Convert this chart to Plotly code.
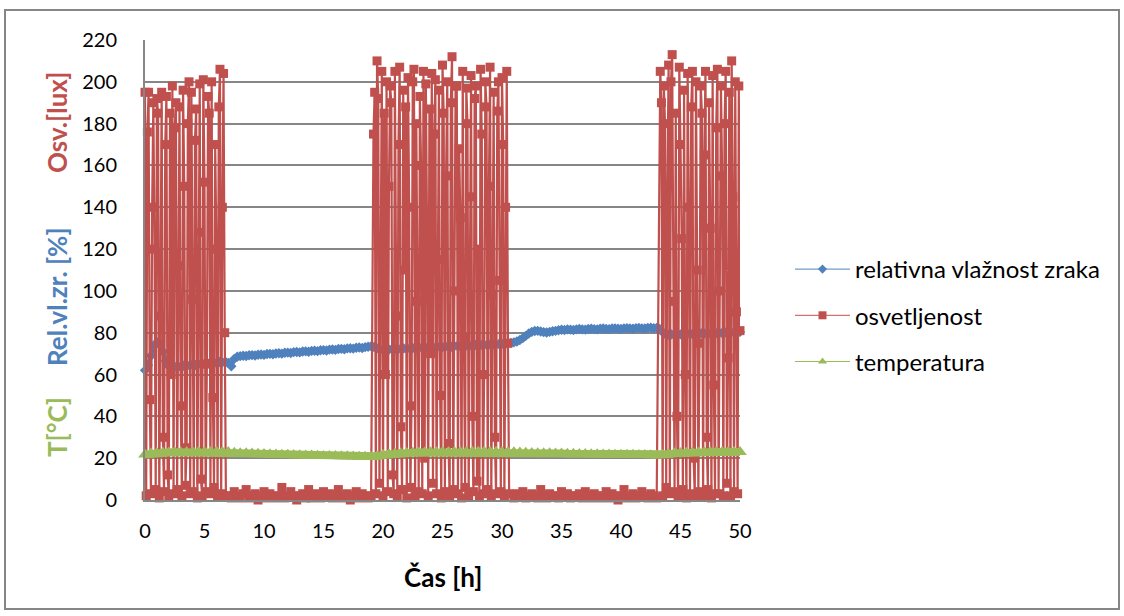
import plotly.graph_objects as go

# ---------------- data ----------------
# relative humidity [%], sampled every 0.25 h from 0 to 50 h
vl_step = 0.25
vlaznost = [
    62.0, 64.5, 69.0, 73.5, 75.5, 75.0, 71.0, 66.5,
    64.0, 63.5, 63.8, 64.0, 63.7, 64.2, 64.5, 64.3,
    64.8, 64.6, 65.0, 65.3, 65.0, 65.5, 65.4, 65.8,
    65.6, 66.0, 65.8, 66.2, 65.5, 64.0, 67.5, 68.5,
    68.8, 69.0, 68.9, 69.2, 69.3, 69.1, 69.5, 69.6,
    69.4, 69.8, 69.9, 69.7, 70.1, 70.2, 70.0, 70.4,
    70.5, 70.3, 70.7, 70.8, 70.6, 71.0, 71.1, 70.9,
    71.3, 71.4, 71.2, 71.6, 71.7, 71.5, 71.9, 72.0,
    71.8, 72.2, 72.3, 72.1, 72.5, 72.6, 72.4, 72.8,
    72.9, 72.7, 73.1, 73.3, 73.5, 73.2, 72.5, 72.0,
    71.8, 72.0, 71.9, 72.2, 72.3, 72.1, 72.4, 72.5,
    72.3, 72.6, 72.7, 72.5, 72.8, 72.9, 72.7, 73.0,
    73.1, 72.9, 73.2, 73.3, 73.1, 73.4, 73.5, 73.3,
    73.6, 73.7, 73.5, 73.8, 73.9, 73.7, 74.0, 74.1,
    73.9, 74.2, 74.3, 74.1, 74.4, 74.5, 74.3, 74.6,
    74.7, 74.6, 74.9, 75.1, 75.4, 75.8, 76.5, 77.4,
    78.5, 79.6, 80.4, 80.8, 80.9, 80.6, 80.3, 80.1,
    80.4, 80.7, 80.9, 81.2, 81.4, 81.3, 81.6, 81.5,
    81.3, 81.6, 81.8, 81.6, 81.5, 81.8, 81.9, 81.7,
    81.6, 81.9, 82.0, 81.8, 81.7, 82.0, 82.1, 81.9,
    81.8, 82.1, 82.2, 82.0, 81.9, 82.2, 82.3, 82.1,
    82.0, 82.3, 82.4, 82.2, 82.3, 81.8, 80.2, 79.3,
    79.0, 79.2, 79.1, 79.3, 79.2, 79.4, 79.3, 79.5,
    79.4, 79.6, 79.5, 79.7, 79.6, 79.8, 79.7, 79.9,
    79.8, 80.0, 79.9, 80.1, 80.0, 80.2, 80.1, 80.3,
    80.4,
]

# temperature [°C], sampled every 0.5 h from 0 to 50 h
t_step = 0.5
temperatura = [
    21.8, 22.2, 22.5, 22.6, 22.7, 22.8, 22.8, 22.9, 22.9, 23.0,
    23.0, 23.0, 23.1, 23.0, 22.9, 22.6, 22.4, 22.3, 22.2, 22.1,
    22.0, 21.9, 21.8, 21.7, 21.6, 21.5, 21.4, 21.3, 21.3, 21.2,
    21.1, 21.1, 21.0, 20.9, 20.9, 20.8, 20.7, 20.7, 20.6, 20.9,
    21.5, 21.9, 22.2, 22.4, 22.5, 22.6, 22.7, 22.7, 22.8, 22.8,
    22.9, 22.9, 23.0, 23.0, 23.0, 23.1, 23.1, 23.1, 23.0, 23.1,
    23.0, 22.9, 22.8, 22.7, 22.6, 22.5, 22.4, 22.3, 22.3, 22.2,
    22.2, 22.1, 22.1, 22.0, 22.0, 21.9, 21.9, 21.8, 21.8, 21.7,
    21.7, 21.6, 21.6, 21.5, 21.5, 21.4, 21.3, 21.5, 21.9, 22.3,
    22.5, 22.6, 22.7, 22.7, 22.8, 22.8, 22.9, 22.9, 23.0, 23.0,
    23.0,
]

# illuminance [lux], recorded in segments: (start hour, step hour, values)
osv_dan1 = [195, 2, 176, 195, 48, 3, 140, 190, 120, 5,
            192, 185, 1, 88, 195, 30, 4, 170, 193, 12,
            2, 185, 60, 198, 3, 178, 190, 5, 112, 188,
            45, 2, 196, 150, 7, 25, 180, 200, 3, 195,
            96, 4, 172, 187, 1, 128, 199, 10, 2, 201,
            152, 4, 65, 193, 185, 3, 200, 49, 6, 170,
            120, 2, 188, 206, 3, 140, 204, 80, 2]
osv_noc1 = [2, 1, 4, 2, 1, 3, 5, 1, 2, 3, 0, 2, 4, 1, 3, 2, 1, 2, 6, 1,
            2, 4, 2, 0, 2, 3, 1, 5, 1, 3, 2, 1, 4, 2, 3, 1, 2, 5, 1, 2,
            3, 0, 2, 4, 1, 3, 2, 1, 2]
osv_dan2 = [175, 195, 3, 210, 192, 8, 120, 205, 2, 185,
            60, 200, 4, 150, 198, 190, 12, 3, 205, 88,
            2, 170, 207, 35, 5, 196, 110, 188, 1, 202,
            140, 6, 45, 200, 206, 2, 180, 95, 4, 193,
            160, 3, 205, 20, 199, 130, 2, 187, 70, 204,
            8, 175, 201, 3, 115, 196, 50, 1, 208, 185,
            4, 155, 200, 27, 2, 190, 212, 5, 100, 198,
            198, 3, 168, 135, 1, 205, 78, 6, 197, 180,
            2, 145, 203, 40, 4, 192, 198, 9, 120, 2,
            206, 175, 3, 60, 200, 188, 5, 150, 207, 2,
            98, 195, 30, 3, 186, 200, 105, 4, 202, 170,
            2, 140, 205, 75, 3]
osv_noc2 = [1, 3, 2, 4, 1, 2, 3, 2, 1, 5, 2, 1, 3, 2, 2, 1, 4, 2, 3, 1,
            2, 2, 3, 1, 4, 2, 1, 3, 2, 1, 2, 4, 1, 3, 2, 0, 2, 5, 1, 2,
            3, 1, 2, 4, 2, 1, 3, 2, 1]
osv_dan3 = [205, 190, 2, 198, 180, 6, 150, 208, 3, 200,
            213, 95, 4, 185, 40, 2, 207, 170, 125, 5,
            196, 60, 1, 204, 140, 3, 188, 205, 20, 2,
            200, 110, 4, 75, 198, 185, 2, 165, 205, 30,
            5, 190, 130, 1, 203, 55, 3, 178, 206, 3,
            100, 198, 155, 2, 180, 205, 8, 68, 195, 2,
            210, 145, 4, 200, 90, 3, 198, 81]
osv_segments = [(0.0, 0.1, osv_dan1), (7.0, 0.25, osv_noc1), (19.2, 0.1, osv_dan2),
                (31.0, 0.25, osv_noc2), (43.3, 0.1, osv_dan3)]

series_names = ["relativna vlažnost zraka", "osvetljenost", "temperatura"]
x_ticks = [0, 5, 10, 15, 20, 25, 30, 35, 40, 45, 50]
y_ticks = [0, 20, 40, 60, 80, 100, 120, 140, 160, 180, 200, 220]

# ---------------- build x arrays ----------------
t_vl = [round(i * vl_step, 3) for i in range(len(vlaznost))]
t_temp = [round(i * t_step, 3) for i in range(len(temperatura))]
t_osv, osv = [], []
for start, step, vals in osv_segments:
    for i, v in enumerate(vals):
        t_osv.append(round(start + i * step, 3))
        osv.append(v)

BLUE = "#4F81BD"
RED = "#C0504D"
GREEN = "#9BBB59"
GRAY = "#868686"
FONT = "Lato"

fig = go.Figure()
# data traces (legend handled by small-marker proxy traces below)
fig.add_trace(go.Scatter(x=t_vl, y=vlaznost, mode="lines+markers", showlegend=False,
                         line=dict(color=BLUE, width=4),
                         marker=dict(symbol="diamond", size=8, color=BLUE),
                         cliponaxis=False, hoverinfo="skip"))
fig.add_trace(go.Scatter(x=t_osv, y=osv, mode="lines+markers", showlegend=False,
                         line=dict(color=RED, width=2.2),
                         marker=dict(symbol="square", size=9, color=RED),
                         cliponaxis=False, hoverinfo="skip"))
fig.add_trace(go.Scatter(x=t_temp, y=temperatura, mode="lines+markers", showlegend=False,
                         line=dict(color=GREEN, width=8),
                         marker=dict(symbol="triangle-up", size=12, color=GREEN),
                         cliponaxis=False, hoverinfo="skip"))
for name, col, sym, sz, grp in [(series_names[0], BLUE, "diamond", 7, "a"),
                                (series_names[1], RED, "square", 8, "b"),
                                (series_names[2], GREEN, "triangle-up", 8, "c")]:
    fig.add_trace(go.Scatter(x=[None], y=[None], mode="lines+markers", name=name,
                             legendgroup=grp, line=dict(color=col, width=1),
                             marker=dict(symbol=sym, size=sz, color=col)))

L, R, T, B = 145, 740, 40, 500
W, H = 1124, 616


def px_x(px):
    return (px - L) / (R - L)


def px_y(py):
    return (B - py) / (B - T)


fig.update_layout(
    width=W, height=H,
    margin=dict(l=L, r=W - R, t=T, b=H - B, pad=0),
    paper_bgcolor="white", plot_bgcolor="white",
    font=dict(family=FONT, size=20, color="black"),
    showlegend=True,
    legend=dict(x=px_x(790), y=px_y(247), xanchor="left", yanchor="top",
                traceorder="grouped", tracegroupgap=12,
                font=dict(family=FONT, size=24, color="black"),
                bgcolor="rgba(0,0,0,0)", itemwidth=55),
    xaxis=dict(range=[0, 50], tickvals=x_ticks, ticktext=[str(v) for v in x_ticks],
               showgrid=False, zeroline=False, showline=True, linecolor=GRAY, linewidth=2,
               ticks="", ticklabelstandoff=12,
               tickfont=dict(family=FONT, size=20, color="black")),
    yaxis=dict(range=[0, 220], tickvals=y_ticks, ticktext=[str(v) for v in y_ticks],
               showgrid=True, gridcolor=GRAY, gridwidth=2, zeroline=False,
               showline=True, linecolor=GRAY, linewidth=2,
               ticks="", ticklabelstandoff=22,
               tickfont=dict(family=FONT, size=20, color="black")),
    shapes=[dict(type="rect", xref="paper", yref="paper",
                 x0=px_x(5), x1=px_x(1119), y0=px_y(609), y1=px_y(10),
                 line=dict(color=GRAY, width=2), fillcolor="rgba(0,0,0,0)", layer="below")],
    annotations=[
        dict(text="<b>Čas [h]</b>", xref="paper", yref="paper", x=0.5, y=px_y(577),
             showarrow=False, font=dict(family=FONT, size=26, color="black"),
             xanchor="center", yanchor="middle"),
        dict(text="<b>Osv.[lux]</b>", xref="paper", yref="paper", x=px_x(57), y=px_y(122),
             textangle=-90, showarrow=False, font=dict(family=FONT, size=26, color=RED),
             xanchor="center", yanchor="middle"),
        dict(text="<b>Rel.vl.zr. [%]</b>", xref="paper", yref="paper", x=px_x(57), y=px_y(297),
             textangle=-90, showarrow=False, font=dict(family=FONT, size=26, color=BLUE),
             xanchor="center", yanchor="middle"),
        dict(text="<b>T[°C]</b>", xref="paper", yref="paper", x=px_x(57), y=px_y(427),
             textangle=-90, showarrow=False, font=dict(family=FONT, size=26, color=GREEN),
             xanchor="center", yanchor="middle"),
    ],
)

fig.write_html("out.html", config={"displayModeBar": False},
               post_script="document.body.style.margin='0px';document.body.style.overflow='hidden';")
